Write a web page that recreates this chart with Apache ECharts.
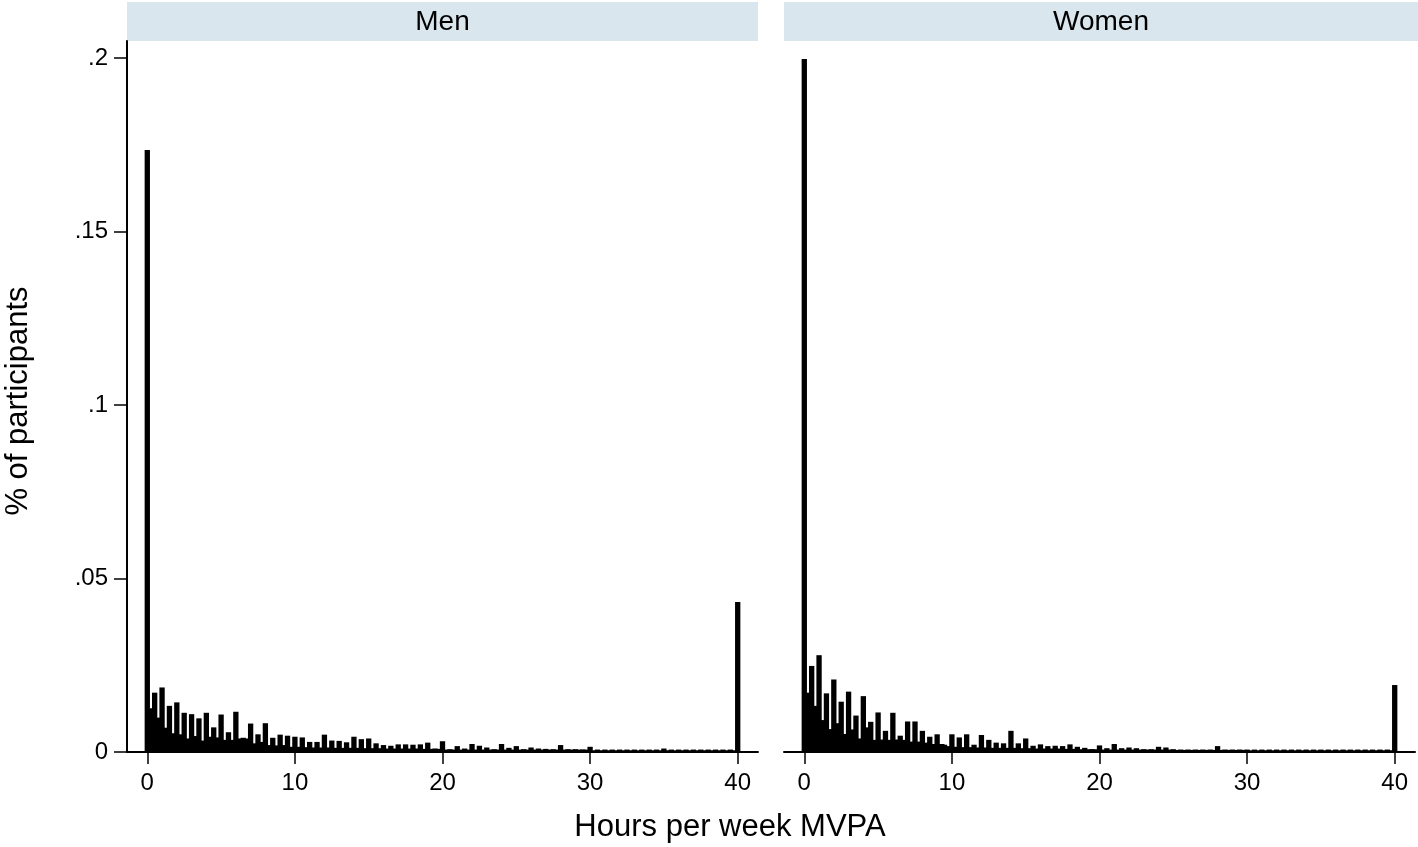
<!DOCTYPE html>
<html><head><meta charset="utf-8">
<script src="https://cdn.jsdelivr.net/npm/echarts@6/dist/echarts.min.js"></script>
<style>html,body{margin:0;padding:0;background:#fff}#c{width:1418px;height:847px}</style>
</head><body><div id="c"></div>
<script>
// Bin positions (hours per week)
const hours = [0,0.5,1,1.5,2,2.5,3,3.5,4,4.5,5,5.5,6,6.5,7,7.5,8,8.5,9,9.5,
  10,10.5,11,11.5,12,12.5,13,13.5,14,14.5,15,15.5,16,16.5,17,17.5,18,18.5,19,19.5,
  20,20.5,21,21.5,22,22.5,23,23.5,24,24.5,25,25.5,26,26.5,27,27.5,28,28.5,29,29.5,
  30,30.5,31,31.5,32,32.5,33,33.5,34,34.5,35,35.5,36,36.5,37,37.5,38,38.5,39,39.5,40];
const midHours = [0.25,0.75,1.25,1.75,2.25,2.75,3.25,3.75,4.25,4.75,5.25,5.75,6.25,6.75,7.25,7.75,8.25,8.75,9.25,9.75,
  10.25,10.75,11.25,11.75,12.25,12.75,13.25,13.75,14.25,14.75,15.25,15.75,16.25,16.75,17.25,17.75,18.25,18.75,19.25,19.75,
  20.25,20.75,21.25,21.75,22.25,22.75,23.25,23.75,24.25,24.75,25.25,25.75,26.25,26.75,27.25,27.75,28.25,28.75,29.25,29.75,
  30.25,30.75,31.25,31.75,32.25,32.75,33.25,33.75,34.25,34.75,35.25,35.75,36.25,36.75,37.25,37.75,38.25,38.75,39.25,39.75];

// Men: main bins (at half-hours) and in-between bins
const menBars = [0.1735,0.0171,0.0186,0.0133,0.0143,0.0113,0.0109,0.0097,0.0113,0.0071,
  0.0108,0.0057,0.0116,0.0041,0.0082,0.0051,0.0083,0.0041,0.0050,0.0047,
  0.0044,0.0042,0.0029,0.0029,0.0050,0.0033,0.0032,0.0028,0.0044,0.0037,
  0.0039,0.0025,0.0020,0.0018,0.0022,0.0022,0.0021,0.0022,0.0027,0.0010,
  0.0031,0.0008,0.0017,0.0010,0.0023,0.0018,0.0013,0.0008,0.0023,0.0012,
  0.0017,0.0008,0.0013,0.0010,0.0009,0.0008,0.0020,0.0008,0.0008,0.0007,
  0.0015,0.0007,0.0007,0.0007,0.0007,0.0007,0.0007,0.0007,0.0007,0.0007,
  0.0010,0.0007,0.0007,0.0007,0.0007,0.0007,0.0007,0.0007,0.0007,0.0007,
  0.0432];
const menFill = [0.0126,0.0099,0.0070,0.0054,0.0051,0.0039,0.0046,0.0033,0.0044,0.0042,
  0.0035,0.0035,0.0039,0.0039,0.0025,0.0029,0.0020,0.0019,0.0020,0.0015,
  0.0015,0.0014,0.0013,0.0013,0.0013,0.0012,0.0012,0.0012,0.0012,0.0011,
  0.0011,0.0011,0.0010,0.0010,0.0010,0.0010,0.0010,0.0009,0.0009,0.0009,
  0.0007,0.0007,0.0007,0.0007,0.0007,0.0007,0.0007,0.0007,0.0007,0.0007,
  0.0007,0.0007,0.0007,0.0007,0.0007,0.0007,0.0007,0.0007,0.0007,0.0007,
  0.0005,0.0005,0.0005,0.0005,0.0005,0.0005,0.0005,0.0005,0.0005,0.0005,
  0.0005,0.0005,0.0005,0.0005,0.0005,0.0005,0.0005,0.0005,0.0005,0.0005];

// Women
const womenBars = [0.1997,0.0248,0.0279,0.0169,0.0209,0.0145,0.0174,0.0105,0.0161,0.0087,
  0.0114,0.0061,0.0113,0.0047,0.0088,0.0088,0.0061,0.0044,0.0051,0.0021,
  0.0051,0.0042,0.0051,0.0021,0.0049,0.0035,0.0027,0.0025,0.0061,0.0025,
  0.0039,0.0018,0.0022,0.0017,0.0018,0.0017,0.0022,0.0015,0.0012,0.0008,
  0.0019,0.0011,0.0023,0.0011,0.0013,0.0011,0.0008,0.0008,0.0015,0.0013,
  0.0008,0.0007,0.0007,0.0007,0.0007,0.0007,0.0017,0.0007,0.0007,0.0007,
  0.0007,0.0007,0.0007,0.0007,0.0007,0.0007,0.0007,0.0007,0.0007,0.0007,
  0.0007,0.0007,0.0007,0.0007,0.0007,0.0007,0.0007,0.0007,0.0007,0.0007,
  0.0193];
const womenFill = [0.0171,0.0133,0.0092,0.0066,0.0083,0.0052,0.0065,0.0039,0.0071,0.0035,
  0.0036,0.0035,0.0036,0.0035,0.0030,0.0030,0.0027,0.0023,0.0023,0.0017,
  0.0015,0.0014,0.0014,0.0013,0.0013,0.0012,0.0012,0.0012,0.0012,0.0011,
  0.0011,0.0010,0.0010,0.0010,0.0010,0.0009,0.0009,0.0008,0.0008,0.0008,
  0.0007,0.0007,0.0007,0.0007,0.0007,0.0007,0.0007,0.0007,0.0007,0.0007,
  0.0006,0.0006,0.0006,0.0006,0.0006,0.0006,0.0006,0.0006,0.0006,0.0006,
  0.0005,0.0005,0.0005,0.0005,0.0005,0.0005,0.0005,0.0005,0.0005,0.0005,
  0.0005,0.0005,0.0005,0.0005,0.0005,0.0005,0.0005,0.0005,0.0005,0.0005];

const panelTitles = ['Men', 'Women'];
const yTicks = [0, 0.05, 0.1, 0.15, 0.2];
const yTickLabels = ['0', '.05', '.1', '.15', '.2'];
const xTicks = [0, 10, 20, 30, 40];
const xTitle = 'Hours per week MVPA';
const yTitle = '% of participants';

const FONT = '"Liberation Sans", Arial, sans-serif';
const chart = echarts.init(document.getElementById('c'), null, {renderer: 'canvas'});

function rectRenderer(halfWidth) {
  return function (params, api) {
    const x = api.value(0), y = api.value(1);
    const p0 = api.coord([x - halfWidth, y]);
    const p1 = api.coord([x + halfWidth, 0]);
    return {
      type: 'rect',
      shape: {x: p0[0], y: p0[1], width: p1[0] - p0[0], height: p1[1] - p0[1]},
      style: {fill: '#000'}
    };
  };
}
const pairs = (xs, ys) => xs.map((x, i) => [x, ys[i]]);

const grids = [
  {left: 127, top: 41, width: 631, bottom: 95},
  {left: 784, top: 41, width: 631, bottom: 95}
];
const xAxes = [0, 1].map(i => ({
  type: 'value', gridIndex: i, min: -1.375, max: 41.375,
  axisLine: {show: true, onZero: false, lineStyle: {color: '#000', width: 2}},
  axisTick: {show: true, length: 12, customValues: xTicks, lineStyle: {color: '#000', width: 1.5}},
  axisLabel: {show: true, customValues: xTicks, margin: 19, color: '#000', fontSize: 24, fontFamily: FONT},
  splitLine: {show: false}
}));
const yAxes = [0, 1].map(i => ({
  type: 'value', gridIndex: i, min: 0, max: 0.2049, show: i === 0,
  axisLine: {show: true, onZero: false, lineStyle: {color: '#000', width: 2}},
  axisTick: {show: true, length: 13, customValues: yTicks, lineStyle: {color: '#000', width: 1.5}},
  axisLabel: {show: true, customValues: yTicks, margin: 19, color: '#000', fontSize: 24, fontFamily: FONT,
    formatter: v => { const k = yTicks.findIndex(t => Math.abs(t - v) < 1e-9); return k >= 0 ? yTickLabels[k] : ''; }},
  splitLine: {show: false}
}));

const panelData = [[menBars, menFill], [womenBars, womenFill]];
const series = [];
panelData.forEach((d, i) => {
  series.push({type: 'custom', xAxisIndex: i, yAxisIndex: i, z: 1, renderItem: rectRenderer(0.25),
    encode: {x: 0, y: 1}, data: pairs(midHours, d[1]), silent: true});
  series.push({type: 'custom', xAxisIndex: i, yAxisIndex: i, z: 2, renderItem: rectRenderer(0.18),
    encode: {x: 0, y: 1}, data: pairs(hours, d[0]), silent: true});
});

const graphic = [];
[[127, 631], [784, 634]].forEach((g, i) => {
  graphic.push({type: 'rect', left: g[0], top: 2, shape: {width: g[1], height: 39}, style: {fill: '#dae6ee'}, z: 0});
  graphic.push({type: 'text', x: g[0] + g[1] / 2, y: 22, style: {text: panelTitles[i], fill: '#000', font: '28px ' + FONT, textAlign: 'center', textVerticalAlign: 'middle'}});
});
graphic.push({type: 'text', x: 730, y: 827, style: {text: xTitle, fill: '#000', font: '31px ' + FONT, textAlign: 'center', textVerticalAlign: 'middle'}});
graphic.push({type: 'text', x: 18, y: 401, rotation: Math.PI / 2, style: {text: yTitle, fill: '#000', font: '31px ' + FONT, textAlign: 'center', textVerticalAlign: 'middle'}});

chart.setOption({
  animation: false,
  backgroundColor: '#fff',
  grid: grids, xAxis: xAxes, yAxis: yAxes, series: series, graphic: graphic
});
</script></body></html>
